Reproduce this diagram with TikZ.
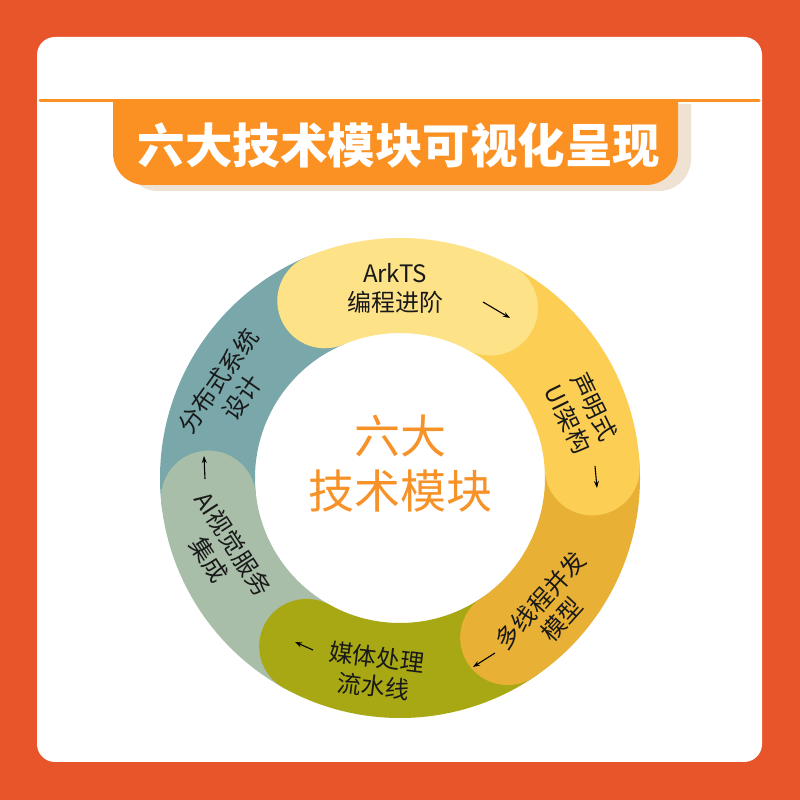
\documentclass[tikz,border=0pt]{standalone}
\usepackage{fontspec}
\setmainfont{Noto Sans CJK SC}
\usetikzlibrary{arrows.meta}
\definecolor{bgred}{RGB}{233,85,43}
\definecolor{bannerorange}{RGB}{250,145,34}
\definecolor{shadowbeige}{RGB}{240,226,210}
\definecolor{segLight}{RGB}{253,226,135}
\definecolor{segYellow}{RGB}{252,207,84}
\definecolor{segGold}{RGB}{232,176,52}
\definecolor{segOlive}{RGB}{168,167,20}
\definecolor{segSage}{RGB}{168,190,168}
\definecolor{segTeal}{RGB}{122,167,170}
\definecolor{coreorange}{RGB}{246,146,40}

\begin{document}
\begin{tikzpicture}[x=1pt, y=1pt,
		seg/.style={line width=95pt, line cap=round},
		ringlabel/.style={align=center, inner sep=0pt, text=black!90, font=\fontsize{24}{29}\selectfont},
		flow/.style={-{Stealth[length=7pt, width=5pt]}, line width=1.1pt, black}]
		\useasboundingbox (0,0) rectangle (800,800);
		\fill[bgred] (0,0) rectangle (800,800);
		\fill[white, rounded corners=18pt] (37,38) rectangle (762,763);
		
		% title banner
		\fill[shadowbeige] (126,696) -- (126,641) arc[start angle=180, end angle=270, radius=32] -- (659,609) arc[start angle=270, end angle=360, radius=32] -- (691,696) -- cycle;
		\fill[bannerorange] (113,699) -- (113,647) arc[start angle=180, end angle=270, radius=32] -- (646,615) arc[start angle=270, end angle=360, radius=32] -- (678,699) -- cycle;
		\draw[bannerorange, line width=3pt, line cap=round] (40,699) -- (759,699);
		\node[text=white, font=\fontsize{47.5}{50}\selectfont\bfseries] (title) at (399,655) {六大技术模块可视化呈现};
		
		% ring
		\coordinate (C) at (400,322);
		\draw[seg, segTeal, shift={(C)}] (186:192.5) arc[start angle=186, end angle=113, radius=192.5];
		\draw[seg, segSage, shift={(C)}] (241:192.5) arc[start angle=241, end angle=186, radius=192.5];
		\draw[seg, segOlive, shift={(C)}] (-56:192.5) arc[start angle=-56, end angle=-119, radius=192.5];
		\draw[seg, segGold, shift={(C)}] (3:192.5) arc[start angle=3, end angle=-56, radius=192.5];
		\draw[seg, segYellow, shift={(C)}] (62:192.5) arc[start angle=62, end angle=3, radius=192.5];
		\draw[seg, segLight, shift={(C)}] (113:192.5) arc[start angle=113, end angle=62, radius=192.5];
		
		\node[ringlabel] (arkts) at (395,512) {ArkTS\\编程进阶};
		\node[ringlabel, rotate=-64] (declui) at (581,387) {声明式\\UI架构};
		\node[ringlabel, rotate=48] (thread) at (551,190) {多线程并发\\模型};
		\node[ringlabel, rotate=-7] (media) at (375,128) {媒体处理\\流水线};
		\node[ringlabel, rotate=-57] (aivision) at (221,248) {AI视觉服务\\集成};
		\node[ringlabel, rotate=55] (distrib) at (230,411) {分布式系统\\设计};
		\node[text=coreorange, align=center, font=\fontsize{46}{55}\selectfont] (core) at (400,336) {六大\\技术模块};
		
		\coordinate (a1s) at (483,498); \coordinate (a1e) at (510,482);
		\coordinate (a2s) at (595,334); \coordinate (a2e) at (597,312);
		\coordinate (a3s) at (495,147); \coordinate (a3e) at (473,133);
		\coordinate (a4s) at (313,150); \coordinate (a4e) at (295,158);
		\coordinate (a5s) at (205,321); \coordinate (a5e) at (204,344);
		\draw[flow] (a1s) -- (a1e);
		\draw[flow] (a2s) -- (a2e);
		\draw[flow] (a3s) -- (a3e);
		\draw[flow] (a4s) -- (a4e);
		\draw[flow] (a5s) -- (a5e);
	\end{tikzpicture}
\end{document}
